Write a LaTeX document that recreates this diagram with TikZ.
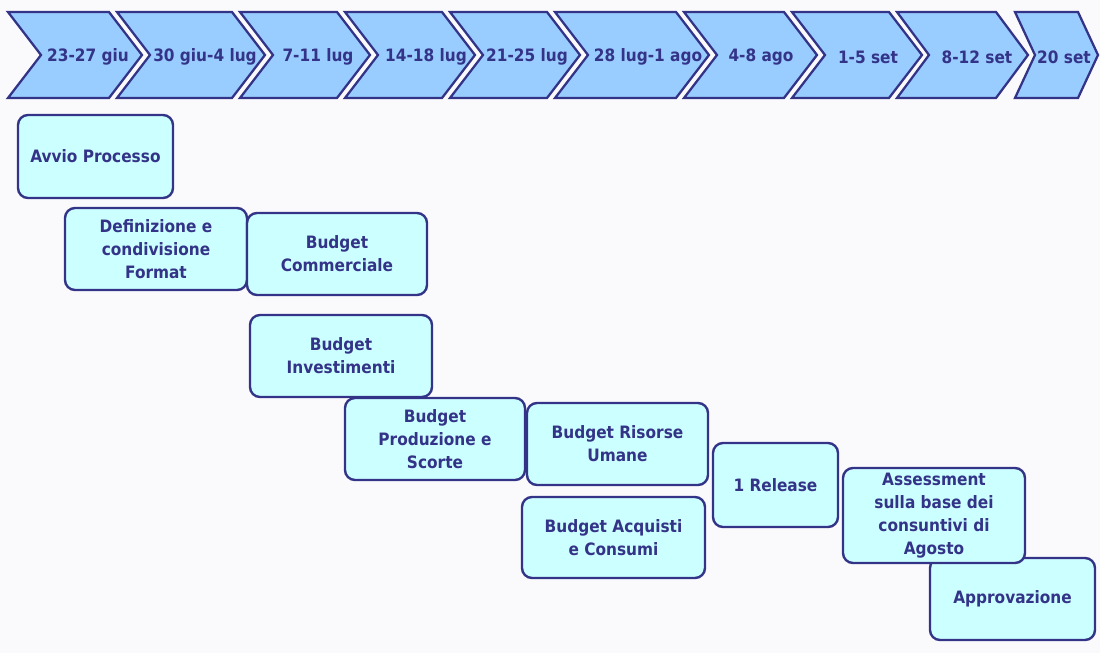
\documentclass[tikz,border=0pt]{standalone}
\usepackage{fontspec}
\setmainfont{DejaVu Sans Condensed}
\usetikzlibrary{positioning}

\definecolor{navy}{RGB}{51,51,136}
\definecolor{chevfill}{RGB}{153,204,255}
\definecolor{boxfill}{RGB}{204,255,255}
\definecolor{bgcol}{RGB}{250,250,252}

\tikzset{
	week/.style={draw=navy, line width=1.7pt, fill=chevfill, line join=miter},
	weeklabel/.style={font=\bfseries\fontsize{12.8}{14}\selectfont, text=navy, inner sep=0pt},
	task/.style={draw=navy, line width=1.8pt, fill=boxfill, rounded corners=7.5pt,
		align=center, text=navy, inner sep=0pt,
		font=\bfseries\fontsize{12.8}{17.2}\selectfont},
}

\begin{document}
\begin{tikzpicture}[x=0.75pt,y=-0.75pt]
	\fill [bgcol] (0,0) rectangle (1100,653);
	\useasboundingbox (0,0) rectangle (1100,653);
	% weeks
	\foreach \l/\r/\t/\x/\lab [count=\i] in {
		8/109/142/88/23-27 giu,
		117/232/265/205/30 giu-4 lug,
		240/337/370/318/7-11 lug,
		345/442/475/426/14-18 lug,
		450/547/580/527/21-25 lug,
		555/676/709/648/28 lug-1 ago,
		684/784/817/761/4-8 ago,
		792/889/922/868/1-5 set,
		897/996/1028/977/8-12 set,
		1015/1078/1098/1064/20 set}
	{
		\draw [week] (\l,12) -- (\r,12) -- (\t,55) -- (\r,98) -- (\l,98) -- ({\l+\t-\r},55) -- cycle;
		\node [weeklabel] (w\i) at (\x,57) {\lab};
	}
	% tasks
	\node [task, minimum width=116.25pt, minimum height=62.25pt] (avvio) at (95.5,156.5) {Avvio Processo};
	\node [task, minimum width=136.5pt, minimum height=61.5pt] (format) at (156,249) {Definizione e\\condivisione\\Format};
	\node [task, minimum width=135pt, minimum height=61.5pt] (comm) at (337,254) {Budget\\Commerciale};
	\node [task, minimum width=136.5pt, minimum height=61.5pt] (invest) at (341,356) {Budget\\Investimenti};
	\node [task, minimum width=135pt, minimum height=61.5pt] (prod) at (435,439) {Budget\\Produzione e\\Scorte};
	\node [task, minimum width=135.75pt, minimum height=61.5pt] (risorse) at (617.5,444) {Budget Risorse\\Umane};
	\node [task, minimum width=137.25pt, minimum height=60.75pt] (acquisti) at (613.5,537.5) {Budget Acquisti\\e Consumi};
	\node [task, minimum width=93.75pt, minimum height=63pt] (release) at (775.5,485) {1 Release};
	\node [task, minimum width=123.75pt, minimum height=61.5pt] (approv) at (1012.5,599) {Approvazione};
	\node [task, minimum width=136.5pt, minimum height=71.25pt] (assess) at (934,515.5) {Assessment\\sulla base dei\\consuntivi di\\Agosto};
\end{tikzpicture}
\end{document}
